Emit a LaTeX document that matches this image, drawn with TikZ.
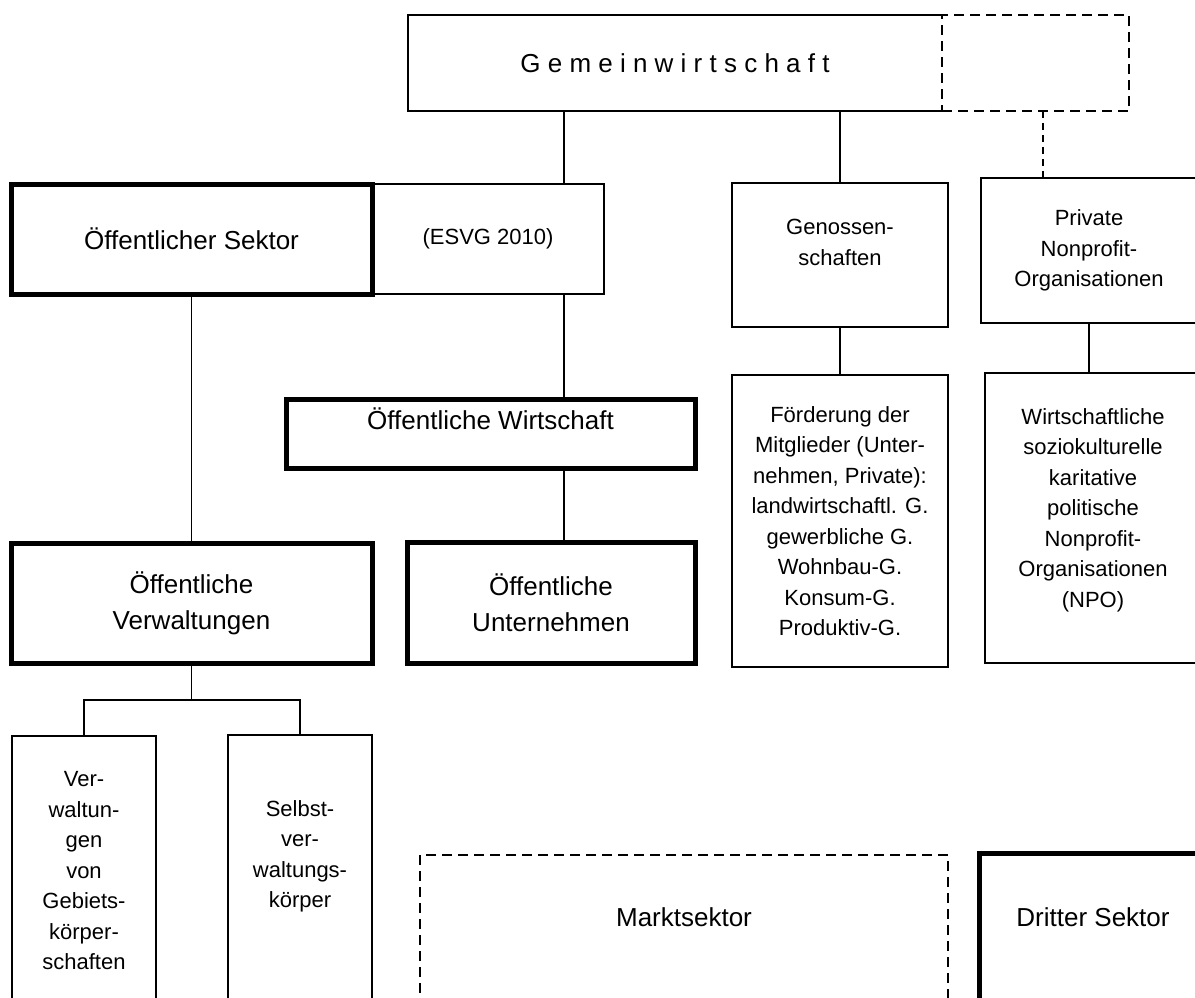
\documentclass[tikz,border=0pt]{standalone}
\usepackage{fontspec}
\setmainfont{Liberation Sans}

\tikzset{
  bigtext/.style={font=\fontsize{26}{36}\selectfont, align=center},
  smalltext/.style={font=\fontsize{22}{30.5}\selectfont, align=center},
  thickbox/.style={draw, line width=5pt, inner sep=0pt, outer sep=0pt},
  thinbox/.style={draw, line width=2.4pt, inner sep=0pt, outer sep=0pt},
  hairbox/.style={draw, line width=1.2pt, inner sep=0pt, outer sep=0pt},
  dashbox/.style={draw, line width=2.5pt, dash pattern=on 10pt off 6pt, inner sep=0pt, outer sep=0pt},
  link/.style={line width=1.5pt},
  dashlink/.style={line width=2.2pt, dash pattern=on 7pt off 5pt},
}

\begin{document}
\begin{tikzpicture}[x=1pt, y=-1pt]
\useasboundingbox (0,0) rectangle (1195,997);
\clip (0,0) rectangle (1195,997);

\coordinate (trunk) at (564,0);
\coordinate (npotrunk) at (1043,0);

% Gemeinwirtschaft
\node[bigtext, minimum width=534pt, minimum height=96pt, inner sep=0pt, outer sep=0pt] (gemein) at (675,63) {G e m e i n w i r t s c h a f t};
\draw[line width=2.6pt] (gemein.south east) -- (gemein.south west) -- (gemein.north west) -- (gemein.north east);
\node[dashbox, minimum width=187pt, minimum height=96pt] (gemeinx) at (1035.5,63) {};

% Sektor
\node[hairbox, smalltext, minimum width=232pt, minimum height=110pt] (esvg) at (488,239) {(ESVG 2010)};
\node[thickbox, bigtext, minimum width=361pt, minimum height=110pt] (sektor) at (191.5,239) {Öffentlicher Sektor};

\node[thickbox, minimum width=409pt, minimum height=69pt] (wirt) at (490.5,433.5) {};
\node[bigtext] (wirttxt) at (490.5,419) {Öffentliche Wirtschaft};
\node[thickbox, bigtext, minimum width=288pt, minimum height=121pt] (unt) at (551,602.5) {Öffentliche\\Unternehmen};
\node[thickbox, bigtext, minimum width=361pt, minimum height=120pt] (verw) at (191.5,603) {Öffentliche\\Verwaltungen};

\node[thinbox, minimum width=144pt, minimum height=280pt] (gebiet) at (84,876) {};
\node[smalltext] (gebiettxt) at (84,871) {Ver-\\waltun-\\gen\\von\\Gebiets-\\körper-\\schaften};
\node[thinbox, minimum width=144pt, minimum height=280pt] (selbst) at (300,875) {};
\node[smalltext] (selbsttxt) at (300,856.5) {Selbst-\\ver-\\waltungs-\\körper};

% Genossenschaften
\node[thinbox, minimum width=216pt, minimum height=144pt] (genoss) at (840,255) {};
\node[smalltext] (genosstxt) at (840,242.5) {Genossen-\\schaften};
\node[thinbox, smalltext, minimum width=216pt, minimum height=292pt] (foerd) at (840,521) {Förderung der\\Mitglieder (Unter-\\nehmen, Private):\\landwirtschaftl. G.\\gewerbliche G.\\Wohnbau-G.\\Konsum-G.\\Produktiv-G.};

% NPO
\node[thinbox, smalltext, minimum width=216pt, minimum height=145pt] (npo) at (1089,250.5) {Private\\Nonprofit-\\Organisationen};
\node[thinbox, minimum width=212pt, minimum height=290pt] (npoziel) at (1091,518) {};
\node[smalltext] (npozieltxt) at (1093,510) {Wirtschaftliche\\soziokulturelle\\karitative\\politische\\Nonprofit-\\Organisationen\\(NPO)};

% Sektoren unten
\node[dashbox, minimum width=528pt, minimum height=160pt] (markt) at (684,935) {};
\node[bigtext] (markttxt) at (684,917) {Marktsektor};
\node[thickbox, minimum width=228pt, minimum height=165pt] (dritter) at (1093,935.5) {};
\node[bigtext] (drittertxt) at (1093,917) {Dritter Sektor};

% Linien
\draw[link] (gemein.south -| trunk) -- (esvg.north -| trunk);
\draw[link] (gemein.south -| genoss.north) -- (genoss.north);
\draw[dashlink] (gemeinx.south -| npotrunk) -- (npo.north -| npotrunk);
\draw[link] (esvg.south -| trunk) -- (wirt.north -| trunk);
\draw[link] (wirt.south -| trunk) -- (unt.north -| trunk);
\draw[link] (sektor.south) -- (verw.north);
\draw[link] (verw.south) -- ++(0,37) coordinate (fork) -| (gebiet.north);
\draw[link] (fork) -| (selbst.north);
\draw[link] (genoss.south) -- (foerd.north);
\draw[link] (npo.south) -- (npo.south |- npoziel.north);

\end{tikzpicture}
\end{document}
